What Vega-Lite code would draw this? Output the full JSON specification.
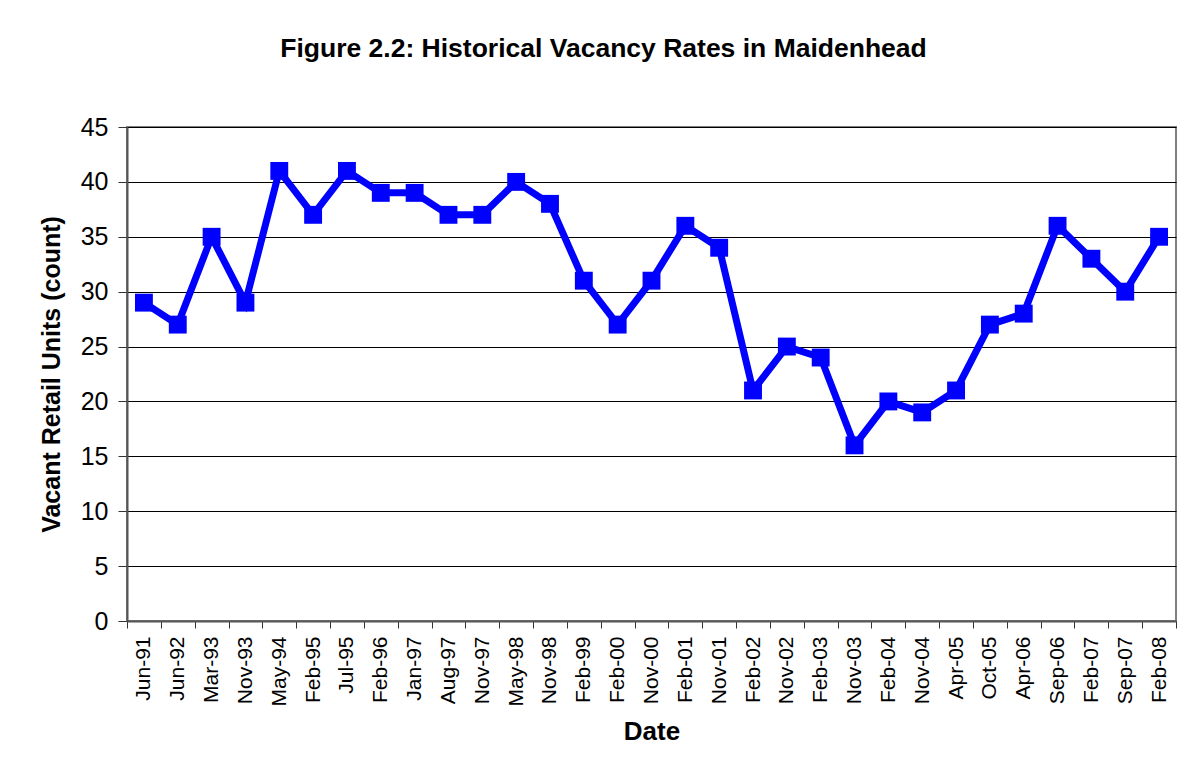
{
  "$schema": "https://vega.github.io/schema/vega-lite/v6.json",
  "width": 1049,
  "height": 494,
  "autosize": {"type": "none"},
  "padding": {"left": 127, "top": 127, "right": 27, "bottom": 150},
  "background": "white",
  "title": {
    "text": "Figure 2.2: Historical Vacancy Rates in Maidenhead",
    "font": "Liberation Sans",
    "fontSize": 26.5,
    "fontWeight": "bold",
    "color": "black",
    "anchor": "middle",
    "dx": -48,
    "offset": 53
  },
  "data": {
    "values": [
      {"date": "Jun-91", "units": 29},
      {"date": "Jun-92", "units": 27},
      {"date": "Mar-93", "units": 35},
      {"date": "Nov-93", "units": 29},
      {"date": "May-94", "units": 41},
      {"date": "Feb-95", "units": 37},
      {"date": "Jul-95", "units": 41},
      {"date": "Feb-96", "units": 39},
      {"date": "Jan-97", "units": 39},
      {"date": "Aug-97", "units": 37},
      {"date": "Nov-97", "units": 37},
      {"date": "May-98", "units": 40},
      {"date": "Nov-98", "units": 38},
      {"date": "Feb-99", "units": 31},
      {"date": "Feb-00", "units": 27},
      {"date": "Nov-00", "units": 31},
      {"date": "Feb-01", "units": 36},
      {"date": "Nov-01", "units": 34},
      {"date": "Feb-02", "units": 21},
      {"date": "Nov-02", "units": 25},
      {"date": "Feb-03", "units": 24},
      {"date": "Nov-03", "units": 16},
      {"date": "Feb-04", "units": 20},
      {"date": "Nov-04", "units": 19},
      {"date": "Apr-05", "units": 21},
      {"date": "Oct-05", "units": 27},
      {"date": "Apr-06", "units": 28},
      {"date": "Sep-06", "units": 36},
      {"date": "Feb-07", "units": 33},
      {"date": "Sep-07", "units": 30},
      {"date": "Feb-08", "units": 35}
    ]
  },
  "encoding": {
    "x": {
      "field": "date",
      "type": "ordinal",
      "sort": null,
      "scale": {"type": "band", "paddingInner": 0, "paddingOuter": 0},
      "axis": {
        "title": "Date",
        "titleFont": "Liberation Sans",
        "titleFontSize": 26,
        "titleFontWeight": "bold",
        "titleColor": "black",
        "titlePadding": 12,
        "labelFont": "Liberation Sans",
        "labelFontSize": 21,
        "labelColor": "black",
        "labelAngle": -90,
        "labelPadding": 8,
        "tickBand": "extent",
        "tickSize": 7,
        "tickColor": "#333333",
        "domainColor": "#555555",
        "domainWidth": 2,
        "grid": false
      }
    },
    "y": {
      "field": "units",
      "type": "quantitative",
      "scale": {"domain": [0, 45], "nice": false},
      "axis": {
        "title": "Vacant Retail Units (count)",
        "titleFont": "Liberation Sans",
        "titleFontSize": 25,
        "titleFontWeight": "bold",
        "titleColor": "black",
        "titlePadding": 16,
        "values": [0, 5, 10, 15, 20, 25, 30, 35, 40, 45],
        "labelFont": "Liberation Sans",
        "labelFontSize": 25,
        "labelColor": "black",
        "labelPadding": 10,
        "tickSize": 9,
        "tickColor": "#333333",
        "domainColor": "#555555",
        "domainWidth": 2,
        "grid": true,
        "gridColor": "black",
        "gridWidth": 1,
        "gridOpacity": 1
      }
    }
  },
  "layer": [
    {"mark": {"type": "line", "color": "#0000FF", "strokeWidth": 7}},
    {"mark": {"type": "point", "shape": "square", "filled": true, "color": "#0000FF", "size": 320, "opacity": 1}}
  ],
  "config": {
    "view": {"stroke": "#808080", "strokeWidth": 2}
  }
}
